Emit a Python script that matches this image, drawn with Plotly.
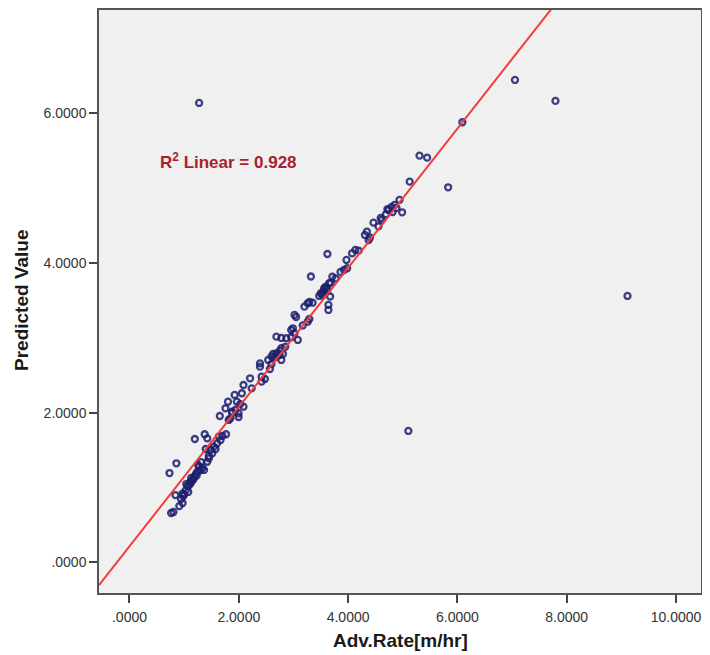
import plotly.graph_objects as go

adv_rate = [
    0.762, 0.804, 0.858, 0.732, 0.840, 0.943, 0.972, 0.912, 0.972, 1.033,
    1.062, 1.093, 1.124, 1.152, 1.183, 1.214, 1.243, 1.274, 1.333, 1.364,
    1.423, 1.454, 1.395, 1.485, 1.514, 1.575, 1.545, 1.604, 1.666, 1.635,
    1.423, 1.376, 1.196, 1.767, 0.984, 1.075, 1.129, 1.039, 1.255, 1.310,
    1.756, 1.803, 1.815, 1.846, 1.875, 1.924, 1.936, 1.965, 1.996, 1.996,
    2.027, 2.056, 2.086, 2.086, 1.653,
    2.207, 2.236, 2.388, 2.388, 2.417, 2.478, 2.417, 2.538, 2.569, 2.598,
    2.628, 2.659, 2.688, 2.749, 2.778, 2.809, 2.778, 2.688, 2.778, 2.869,
    2.959, 3.080, 3.020, 2.959, 2.990, 3.020, 3.049, 2.749,
    3.170, 3.261, 3.291, 3.201, 3.261, 3.291, 3.351, 3.320, 3.472, 3.501,
    3.532, 3.562, 3.591, 3.622, 3.653, 3.671, 3.640, 3.640, 3.682, 3.712,
    3.772, 3.862, 3.924, 3.983, 3.971, 3.622, 4.073, 4.133, 4.194,
    4.344, 4.375, 4.465, 4.556, 4.615, 4.693, 4.742, 4.796, 4.850, 4.886,
    4.941, 4.989, 4.814, 4.597, 4.308,
    5.127, 5.307, 5.446, 5.831, 6.091, 7.054, 7.795, 9.113, 5.103, 1.274,
    # extra overlapping points in the dense band
    1.000, 1.110, 1.170, 1.230, 1.300, 1.450, 1.700, 1.880, 2.600, 2.700,
    2.850, 3.550, 3.600, 4.400, 4.720,
]
predicted = [
    0.659, 0.672, 1.323, 1.193, 0.899, 0.846, 0.792, 0.752, 0.922, 0.966,
    1.020, 1.033, 1.060, 1.100, 1.140, 1.180, 1.211, 1.274, 1.260, 1.234,
    1.344, 1.390, 1.514, 1.501, 1.457, 1.514, 1.545, 1.590, 1.634, 1.679,
    1.657, 1.711, 1.648, 1.711, 0.886, 0.940, 1.127, 1.046, 1.300, 1.340,
    2.058, 2.146, 1.902, 1.924, 2.013, 2.236, 2.035, 2.146, 1.991, 1.942,
    2.115, 2.259, 2.079, 2.369, 1.955,
    2.459, 2.325, 2.659, 2.614, 2.480, 2.450, 2.414, 2.704, 2.583, 2.650,
    2.784, 2.737, 2.793, 2.824, 2.860, 2.784, 2.704, 3.015, 2.998, 2.994,
    3.007, 2.971, 3.060, 3.104, 3.127, 3.305, 3.278, 2.770,
    3.165, 3.215, 3.251, 3.416, 3.461, 3.479, 3.469, 3.819, 3.559, 3.595,
    3.572, 3.662, 3.683, 3.639, 3.729, 3.552, 3.439, 3.372, 3.737, 3.817,
    3.795, 3.880, 3.906, 3.929, 4.040, 4.120, 4.129, 4.174, 4.164,
    4.418, 4.307, 4.538, 4.488, 4.574, 4.651, 4.708, 4.748, 4.775, 4.735,
    4.842, 4.677, 4.681, 4.601, 4.374,
    5.086, 5.434, 5.407, 5.011, 5.880, 6.445, 6.165, 3.559, 1.755, 6.138,
    0.905, 1.075, 1.110, 1.160, 1.230, 1.420, 1.690, 2.000, 2.750, 2.760,
    2.880, 3.620, 3.660, 4.340, 4.720,
]

# Linear fit shown in the chart
fit_intercept = 0.214
fit_slope = 0.930
r2_label = "R<sup>2</sup> Linear = 0.928"

x_range = [-0.558, 10.458]
y_range = [-0.41, 7.38]

x_ticks = [0, 2, 4, 6, 8, 10]
x_ticktext = [".0000", "2.0000", "4.0000", "6.0000", "8.0000", "10.0000"]
y_ticks = [0, 2, 4, 6]
y_ticktext = [".0000", "2.0000", "4.0000", "6.0000"]

fit_x = x_range
fit_y = [fit_intercept + fit_slope * v for v in fit_x]

fig = go.Figure()
fig.add_trace(go.Scatter(
    x=adv_rate, y=predicted, mode="markers",
    marker=dict(symbol="circle-open", size=6,
                line=dict(width=2.3, color="rgba(28,30,110,0.85)"),
                color="rgba(28,30,110,0.85)"),
    showlegend=False, hoverinfo="x+y",
))
fig.add_trace(go.Scatter(
    x=fit_x, y=fit_y, mode="lines",
    line=dict(color="#f53b3b", width=2),
    showlegend=False, hoverinfo="skip",
))

font_family = "Liberation Sans, Arial, sans-serif"
axis_common = dict(
    showgrid=False, zeroline=False, showline=True, mirror=True,
    linecolor="#555555", linewidth=1.5, automargin=False,
    ticks="outside", ticklen=8, tickwidth=1.5, tickcolor="#444444",
    tickfont=dict(family=font_family, size=14, color="#333333"),
)
# the page body adds an 8px offset; size and margins compensate for it
fig.update_layout(
    width=702, height=647,
    margin=dict(l=91, r=9, t=2, b=62),
    paper_bgcolor="white", plot_bgcolor="#f0f0f0",
    font=dict(family=font_family),
    xaxis=dict(range=x_range, tickvals=x_ticks, ticktext=x_ticktext,
               ticklabelstandoff=2, **axis_common),
    yaxis=dict(range=y_range, tickvals=y_ticks, ticktext=y_ticktext,
               ticklabelstandoff=0, **axis_common),
    annotations=[
        dict(text="<b>Adv.Rate[m/hr]</b>", xref="paper", yref="paper",
             x=0.5, y=-0.081, showarrow=False,
             font=dict(family=font_family, size=19, color="#1a1a1a"),
             xanchor="center", yanchor="middle"),
        dict(text="<b>Predicted Value</b>", xref="paper", yref="paper",
             x=-0.1279, y=0.5026, showarrow=False, textangle=-90,
             font=dict(family=font_family, size=19, color="#1a1a1a"),
             xanchor="center", yanchor="middle"),
        dict(text="<b>" + r2_label + "</b>", xref="x", yref="y",
             x=0.52, y=5.363, showarrow=False,
             font=dict(family=font_family, size=17, color="#a91f2b"),
             xanchor="left", yanchor="middle"),
    ],
)

fig.write_html("out.html")
